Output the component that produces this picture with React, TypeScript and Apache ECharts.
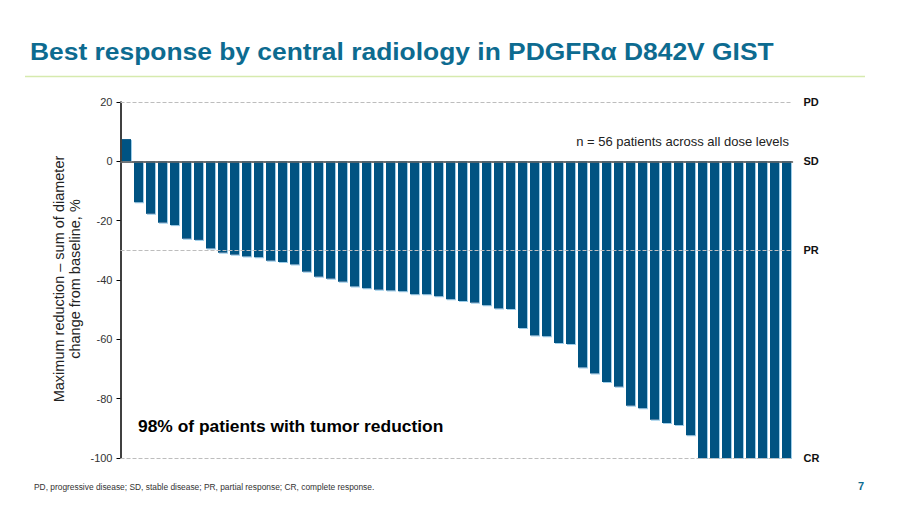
import React, { useEffect, useRef } from "react";
import * as echarts from "echarts";

const patients = [
  "1", "2", "3", "4", "5", "6", "7", "8", "9", "10", "11", "12", "13", "14",
  "15", "16", "17", "18", "19", "20", "21", "22", "23", "24", "25", "26", "27", "28",
  "29", "30", "31", "32", "33", "34", "35", "36", "37", "38", "39", "40", "41", "42",
  "43", "44", "45", "46", "47", "48", "49", "50", "51", "52", "53", "54", "55", "56",
];

const bestChange = [
  7.5, -13.8, -17.7, -20.7, -21.5, -26.1, -26.5, -29.4, -30.8, -31.5, -32.1, -32.3,
  -33.5, -33.9, -34.8, -37.2, -38.9, -39.6, -40.6, -42.2, -42.8, -43.3, -43.5, -43.8,
  -44.8, -44.8, -45.5, -46.5, -47.1, -47.7, -48.5, -49.6, -49.8, -56.2, -58.7, -59.0,
  -61.2, -61.6, -69.5, -71.5, -74.4, -76.0, -82.4, -83.2, -87.1, -88.2, -88.9, -92.3,
  -100, -100, -100, -100, -100, -100, -100, -100,
];

const responseLabels = ["PD", "SD", "PR", "CR"];
const responseValues = [20, 0, -30, -100];

const yTicks = { min: -100, max: 20, interval: 20 };

const FONT = "'Liberation Sans', Arial, sans-serif";

export default function App() {
  const ref = useRef<HTMLDivElement>(null);

  useEffect(() => {
    if (!ref.current) return;
    const chart = echarts.init(ref.current, null, { renderer: "svg" });

    const markData = responseLabels.map((name, i) => ({
      yAxis: responseValues[i],
      label: { formatter: name },
      lineStyle:
        name === "SD"
          ? { type: "solid", color: "#666", width: 1.5 }
          : { type: "dashed", color: "#bdbdbd", width: 1 },
    }));

    chart.setOption({
      animation: false,
      backgroundColor: "#ffffff",
      grid: { left: 120.5, right: 107.5, top: 102, bottom: 48, containLabel: false },
      xAxis: {
        type: "category",
        data: patients,
        axisLine: { show: true, onZero: true, lineStyle: { color: "#666", width: 1.5 } },
        axisTick: { show: false },
        axisLabel: { show: false },
        splitLine: { show: false },
      },
      yAxis: {
        type: "value",
        min: yTicks.min,
        max: yTicks.max,
        interval: yTicks.interval,
        axisLine: { show: true, lineStyle: { color: "#000", width: 1.5 } },
        axisTick: { show: true, length: 4, lineStyle: { color: "#000", width: 1 } },
        axisLabel: { color: "#333", fontSize: 11, fontFamily: FONT, margin: 8 },
        splitLine: { show: false },
      },
      series: [
        {
          type: "bar",
          data: bestChange,
          barCategoryGap: "25%",
          itemStyle: {
            color: "#005282",
            borderColor: "#005282",
            borderWidth: 0,
            shadowColor: "#9ccde9",
            shadowOffsetX: 1,
            shadowOffsetY: 1,
            shadowBlur: 0,
          },
          markLine: {
            silent: true,
            symbol: "none",
            data: markData,
            label: {
              show: true,
              position: "end",
              distance: 11,
              color: "#111",
              fontSize: 11,
              fontWeight: "bold",
              fontFamily: FONT,
            },
          },
        },
      ],
      graphic: [
        {
          type: "text",
          x: 30,
          y: 51,
          scaleX: 1.1,
          style: {
            text: "Best response by central radiology in PDGFRα D842V GIST",
            fill: "#0d6b90",
            font: `bold 24px ${FONT}`,
            align: "left",
            verticalAlign: "middle",
          },
        },
        {
          type: "line",
          shape: { x1: 25, y1: 76.5, x2: 865, y2: 76.5 },
          style: { stroke: "#d6eaae", lineWidth: 1.5 },
        },
        {
          type: "text",
          x: 67,
          y: 279,
          rotation: Math.PI / 2,
          style: {
            text: "Maximum reduction – sum of diameter\nchange from baseline, %",
            fill: "#222",
            font: `14.5px ${FONT}`,
            align: "center",
            verticalAlign: "middle",
            lineHeight: 16,
          },
        },
        {
          type: "text",
          x: 789,
          y: 141,
          style: {
            text: "n = 56 patients across all dose levels",
            fill: "#222",
            font: `13px ${FONT}`,
            align: "right",
            verticalAlign: "middle",
          },
        },
        {
          type: "text",
          x: 138,
          y: 426,
          style: {
            text: "98% of patients with tumor reduction",
            fill: "#000",
            font: `bold 17.4px ${FONT}`,
            align: "left",
            verticalAlign: "middle",
          },
        },
        {
          type: "text",
          x: 34,
          y: 487,
          style: {
            text: "PD, progressive disease; SD, stable disease; PR, partial response; CR, complete response.",
            fill: "#333",
            font: `8.4px ${FONT}`,
            align: "left",
            verticalAlign: "middle",
          },
        },
        {
          type: "text",
          x: 864,
          y: 486,
          style: {
            text: "7",
            fill: "#0d6b90",
            font: `bold 11px ${FONT}`,
            align: "right",
            verticalAlign: "middle",
          },
        },
      ],
    });

    return () => chart.dispose();
  }, []);

  return (
    <div
      ref={ref}
      style={{ position: "absolute", left: 0, top: 0, width: 900, height: 506 }}
    />
  );
}
